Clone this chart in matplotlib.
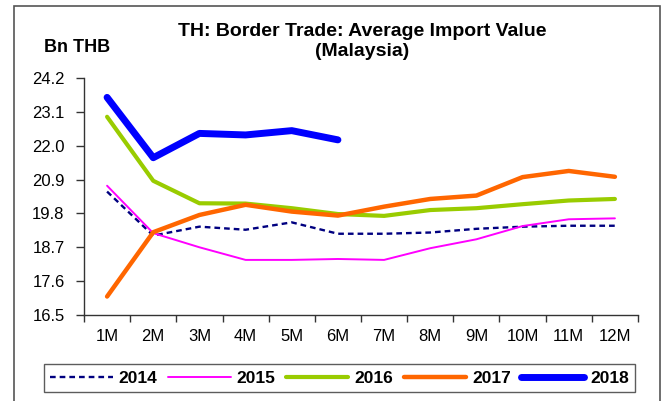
import matplotlib
matplotlib.use("Agg")
import matplotlib.pyplot as plt
from matplotlib.patches import Rectangle
import numpy as np

plt.rcParams['font.family'] = ['Liberation Sans', 'DejaVu Sans']

months = ["1M", "2M", "3M", "4M", "5M", "6M", "7M", "8M", "9M", "10M", "11M", "12M"]
y2014 = [20.51, 19.08, 19.37, 19.27, 19.51, 19.14, 19.14, 19.18, 19.30, 19.37, 19.40, 19.40]
y2015 = [20.70, 19.16, 18.70, 18.29, 18.29, 18.32, 18.29, 18.67, 18.96, 19.39, 19.61, 19.64]
y2016 = [22.94, 20.86, 20.13, 20.12, 19.97, 19.78, 19.72, 19.91, 19.97, 20.10, 20.22, 20.27]
y2017 = [17.10, 19.19, 19.75, 20.08, 19.86, 19.73, 20.02, 20.27, 20.38, 20.98, 21.18, 20.99]
y2018 = [23.57, 21.61, 22.40, 22.35, 22.49, 22.19]
yticks = [16.5, 17.6, 18.7, 19.8, 20.9, 22.0, 23.1, 24.2]

W, H = 670, 401
fig = plt.figure(figsize=(W / 100, H / 100), dpi=100)

# outer chart frame
fig.patches.append(Rectangle((14 / W, -0.05), (660 - 14) / W, 1.05 - 5.7 / H,
                             transform=fig.transFigure, fill=False,
                             edgecolor="#555555", linewidth=1.2))

ax = fig.add_axes([84 / W, 1 - 315 / H, 554 / W, (315 - 78) / H])
x = np.arange(len(months))

ax.plot(x, y2014, color="#000080", lw=1.7, dashes=(2.4, 1.7), label="2014")
ax.plot(x, y2015, color="#FF00FF", lw=1.4, solid_capstyle="round", label="2015")
ax.plot(x, y2016, color="#99CC00", lw=3.0, solid_capstyle="round", label="2016")
ax.plot(x, y2017, color="#FF6600", lw=3.2, solid_capstyle="round", label="2017")
ax.plot(np.arange(len(y2018)), y2018, color="#0000FF", lw=5.0,
        solid_capstyle="round", solid_joinstyle="round", label="2018")

ax.set_xlim(-0.5, len(months) - 0.5)
ax.set_ylim(16.5, 24.2)
ax.set_yticks(yticks)
ax.set_yticklabels([f"{v:.1f}" for v in yticks], fontsize=12)
ax.set_xticks(np.arange(-0.5, len(months), 1.0))
ax.set_xticklabels([])
ax.set_xticks(x, minor=True)
ax.set_xticklabels(months, minor=True, fontsize=12)
ax.tick_params(axis="x", which="major", length=5, width=1, color="#333333")
ax.tick_params(axis="x", which="minor", length=0, pad=10)
ax.tick_params(axis="y", length=6, width=1, color="#333333", pad=8)
for s in ("top", "right"):
    ax.spines[s].set_visible(False)
for s in ("left", "bottom"):
    ax.spines[s].set_color("#333333")
    ax.spines[s].set_linewidth(1.0)

fig.text(362 / W, 1 - 32 / H, "TH: Border Trade: Average Import Value",
         ha="center", va="center", fontsize=14, fontweight="bold")
fig.text(362 / W, 1 - 51 / H, "(Malaysia)",
         ha="center", va="center", fontsize=14, fontweight="bold")
fig.text(77 / W, 1 - 48 / H, "Bn THB", ha="center", va="center",
         fontsize=13, fontweight="bold")

leg = fig.legend(loc="center", bbox_to_anchor=(339.5 / W, 1 - 378 / H), ncol=5,
                 prop={"weight": "bold", "size": 12.5}, frameon=True,
                 fancybox=False, handlelength=3.6, handletextpad=0.35,
                 columnspacing=0.6, borderpad=0.35)
leg.get_frame().set_edgecolor("#333333")
leg.get_frame().set_linewidth(1.0)

fig.savefig("out.png", dpi=100)
